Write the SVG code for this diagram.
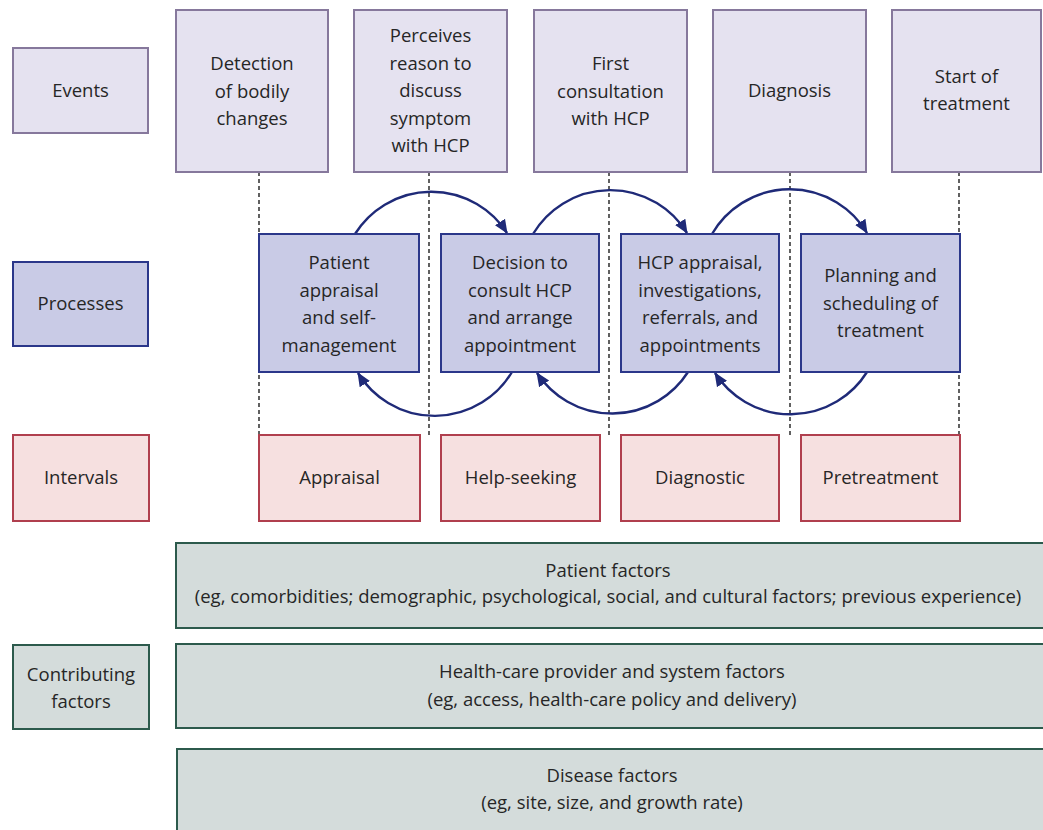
<svg xmlns="http://www.w3.org/2000/svg" width="1043" height="830" viewBox="0 0 1043 830">
<style>
text{font-family:"Open Sans","Noto Sans","Liberation Sans",sans-serif;font-size:18.5px;fill:#262626;text-anchor:middle}
.ev{fill:#e5e2f0;stroke:#86789c;stroke-width:2}
.pr{fill:#c9cbe6;stroke:#2b378a;stroke-width:2}
.iv{fill:#f6e0e0;stroke:#b03f4e;stroke-width:2}
.cf{fill:#d4dcdb;stroke:#2c5a4c;stroke-width:2}
.dash{stroke:#3a3a3a;stroke-width:1.6;stroke-dasharray:4 3;fill:none}
.arc{stroke:#1f2a78;stroke-width:2.4;fill:none;marker-end:url(#ah)}
</style>
<defs>
<marker id="ah" markerWidth="16" markerHeight="14" refX="13" refY="6" orient="auto" markerUnits="userSpaceOnUse" viewBox="0 0 16 12">
<path d="M0,0 L14,6 L0,12 Z" fill="#1f2a78"/>
</marker>
</defs>
<rect width="1043" height="830" fill="#fff"/>

<g id="connectors">
<line class="dash" x1="259" y1="172" x2="259" y2="435"/>
<line class="dash" x1="429" y1="172" x2="429" y2="435"/>
<line class="dash" x1="609" y1="172" x2="609" y2="435"/>
<line class="dash" x1="790" y1="172" x2="790" y2="435"/>
<line class="dash" x1="959" y1="172" x2="959" y2="435"/>
<path class="arc" d="M355,234 A90,90 0 0 1 507,233"/>
<path class="arc" d="M533,234 A90,90 0 0 1 687,233"/>
<path class="arc" d="M712,234 A90,90 0 0 1 867,233"/>
<path class="arc" d="M512,372 A90,90 0 0 1 358,373"/>
<path class="arc" d="M688,372 A90,90 0 0 1 537,373"/>
<path class="arc" d="M867,372 A90,90 0 0 1 715,373"/>
</g>

<g id="label-events"><rect class="ev" x="13" y="48" width="135" height="85"/><text x="80.5" y="97">Events</text></g>
<g id="label-processes"><rect class="pr" x="13" y="262" width="135" height="84"/><text x="80.5" y="310">Processes</text></g>
<g id="label-intervals"><rect class="iv" x="13" y="435" width="136" height="86"/><text x="81" y="484">Intervals</text></g>
<g id="label-contributing"><rect class="cf" x="13" y="645" width="136" height="84"/><text x="81" y="681">Contributing</text><text x="81" y="708">factors</text></g>

<g id="event-1"><rect class="ev" x="176" y="10" width="152" height="162"/><text x="252" y="70">Detection</text><text x="252" y="97.5">of bodily</text><text x="252" y="125">changes</text></g>
<g id="event-2"><rect class="ev" x="354" y="10" width="153" height="162"/><text x="430.5" y="42">Perceives</text><text x="430.5" y="69.5">reason to</text><text x="430.5" y="97">discuss</text><text x="430.5" y="124.5">symptom</text><text x="430.5" y="152">with HCP</text></g>
<g id="event-3"><rect class="ev" x="534" y="10" width="153" height="162"/><text x="610.5" y="70">First</text><text x="610.5" y="97.5">consultation</text><text x="610.5" y="125">with HCP</text></g>
<g id="event-4"><rect class="ev" x="713" y="10" width="153" height="162"/><text x="789.5" y="97">Diagnosis</text></g>
<g id="event-5"><rect class="ev" x="892" y="10" width="149" height="162"/><text x="966.5" y="83">Start of</text><text x="966.5" y="110">treatment</text></g>

<g id="process-1"><rect class="pr" x="259" y="234" width="160" height="138"/><text x="339" y="269">Patient</text><text x="339" y="296.5">appraisal</text><text x="339" y="324">and self-</text><text x="339" y="351.5">management</text></g>
<g id="process-2"><rect class="pr" x="441" y="234" width="158" height="138"/><text x="520" y="269">Decision to</text><text x="520" y="296.5">consult HCP</text><text x="520" y="324">and arrange</text><text x="520" y="351.5">appointment</text></g>
<g id="process-3"><rect class="pr" x="621" y="234" width="158" height="138"/><text x="700" y="269">HCP appraisal,</text><text x="700" y="296.5">investigations,</text><text x="700" y="324">referrals, and</text><text x="700" y="351.5">appointments</text></g>
<g id="process-4"><rect class="pr" x="801" y="234" width="159" height="138"/><text x="880.5" y="282">Planning and</text><text x="880.5" y="309.5">scheduling of</text><text x="880.5" y="337">treatment</text></g>

<g id="interval-1"><rect class="iv" x="259" y="435" width="161" height="86"/><text x="339.5" y="484">Appraisal</text></g>
<g id="interval-2"><rect class="iv" x="441" y="435" width="159" height="86"/><text x="520.5" y="484">Help-seeking</text></g>
<g id="interval-3"><rect class="iv" x="621" y="435" width="158" height="86"/><text x="700" y="484">Diagnostic</text></g>
<g id="interval-4"><rect class="iv" x="801" y="435" width="159" height="86"/><text x="880.5" y="484">Pretreatment</text></g>

<g id="factor-patient"><rect class="cf" x="176" y="543" width="870" height="85"/><text x="608" y="577">Patient factors</text><text x="608" y="603">(eg, comorbidities; demographic, psychological, social, and cultural factors; previous experience)</text></g>
<g id="factor-hcp"><rect class="cf" x="176" y="644" width="870" height="84"/><text x="612" y="678">Health-care provider and system factors</text><text x="612" y="706">(eg, access, health-care policy and delivery)</text></g>
<g id="factor-disease"><rect class="cf" x="177" y="749" width="870" height="90"/><text x="612" y="782">Disease factors</text><text x="612" y="809">(eg, site, size, and growth rate)</text></g>
</svg>
